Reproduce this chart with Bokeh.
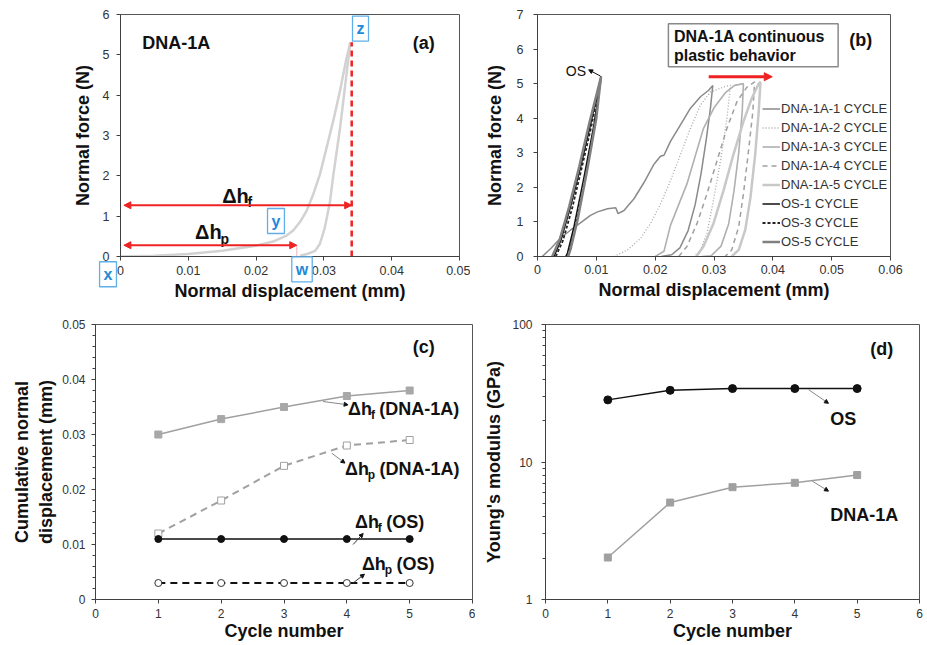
from bokeh.plotting import figure
from bokeh.layouts import column, row
from bokeh.models import Range1d, FixedTicker, Label, Arrow, NormalHead, Legend, LegendItem
from bokeh.core.properties import value
from bokeh.embed import file_html
from bokeh.resources import INLINE

FONT = "Liberation Sans"

# ---------------- Panel (a) data ----------------
a_load_x = [0, 0.005, 0.010, 0.015, 0.020, 0.0225, 0.0245, 0.0255, 0.0265, 0.0275, 0.0284, 0.0294, 0.0304, 0.0314, 0.0324, 0.0333, 0.0339]
a_load_y = [0, 0.02, 0.06, 0.14, 0.27, 0.37, 0.52, 0.65, 0.86, 1.15, 1.53, 2.03, 2.70, 3.38, 4.13, 4.89, 5.31]
a_unload_x = [0.0339, 0.0333, 0.0324, 0.0314, 0.0309, 0.0301, 0.0294, 0.0287, 0.0275, 0.0265]
a_unload_y = [5.31, 4.47, 3.21, 2.03, 1.36, 0.69, 0.31, 0.14, 0.06, 0.02]
a_dhf = 0.0341      # total displacement
a_dhp = 0.0260      # plastic displacement
a_xticks = [0, 0.01, 0.02, 0.03, 0.04, 0.05]
a_xlabels = ["0", "0.01", "0.02", "0.03", "0.04", "0.05"]
a_yticks = [0, 1, 2, 3, 4, 5, 6]

# ---------------- Panel (b) data ----------------
dna1_x = [0.0008, 0.0023, 0.0040, 0.0056, 0.0073, 0.0090, 0.0102, 0.0119, 0.0133, 0.0137, 0.0147, 0.0164, 0.0181, 0.0198, 0.0209, 0.0215, 0.0226, 0.0243, 0.0260, 0.0277, 0.0291, 0.0298,
          0.0294, 0.0287, 0.0278, 0.0268, 0.0256, 0.0242, 0.0228, 0.0210]
dna1_y = [0, 0.24, 0.55, 0.76, 0.97, 1.19, 1.29, 1.38, 1.41, 1.24, 1.33, 1.67, 2.14, 2.67, 2.90, 2.93, 3.33, 3.81, 4.29, 4.62, 4.81, 4.95,
          4.30, 3.40, 2.40, 1.50, 0.75, 0.25, 0.05, 0]
dna2_x = [0.0130, 0.0153, 0.0175, 0.0192, 0.0209, 0.0226, 0.0243, 0.0260, 0.0277, 0.0294, 0.0316, 0.0328,
          0.0322, 0.0311, 0.0299, 0.0288, 0.0277, 0.0266]
dna2_y = [0, 0.19, 0.52, 0.95, 1.52, 2.19, 2.95, 3.71, 4.38, 4.76, 4.90, 4.95,
          4.00, 2.76, 1.62, 0.67, 0.19, 0]
dna3_x = [0.0200, 0.0215, 0.0226, 0.0240, 0.0254, 0.0268, 0.0282, 0.0300, 0.0320, 0.0335, 0.0350,
          0.0348, 0.0342, 0.0334, 0.0325, 0.0312, 0.0295, 0.0280]
dna3_y = [0, 0.15, 0.90, 1.50, 2.10, 2.90, 3.70, 4.30, 4.75, 4.95, 5.00,
          4.20, 3.00, 1.90, 0.95, 0.30, 0.02, 0]
dna4_x = [0.0240, 0.0254, 0.0271, 0.0288, 0.0305, 0.0322, 0.0339, 0.0356, 0.0369,
          0.0366, 0.0358, 0.0350, 0.0342, 0.0330, 0.0319]
dna4_y = [0, 0.29, 0.95, 1.81, 2.76, 3.71, 4.48, 4.90, 5.05,
          4.19, 2.95, 1.81, 0.86, 0.19, 0]
dna5_x = [0.0270, 0.0282, 0.0299, 0.0316, 0.0333, 0.0350, 0.0364, 0.0376, 0.0379,
          0.0376, 0.0370, 0.0362, 0.0353, 0.0342, 0.0330]
dna5_y = [0, 0.29, 0.95, 1.90, 2.95, 3.90, 4.57, 5.00, 5.05,
          4.19, 2.95, 1.71, 0.76, 0.19, 0]
os1_x = [0.0028, 0.0040, 0.0056, 0.0073, 0.0090, 0.0108, 0.0096, 0.0079, 0.0062, 0.0051, 0.0048]
os1_y = [0, 0.48, 1.43, 2.57, 3.81, 5.20, 3.81, 2.29, 0.86, 0.10, 0]
os3_x = [0.0031, 0.0043, 0.0059, 0.0075, 0.0092, 0.0108, 0.0098, 0.0082, 0.0065, 0.0054, 0.0050]
os3_y = [0, 0.45, 1.40, 2.55, 3.80, 5.20, 3.90, 2.40, 0.95, 0.15, 0]
os5_x = [0.0025, 0.0038, 0.0054, 0.0071, 0.0088, 0.0108, 0.0100, 0.0085, 0.0068, 0.0056, 0.0052]
os5_y = [0, 0.50, 1.45, 2.60, 3.85, 5.20, 4.00, 2.55, 1.05, 0.20, 0]
b_xticks = [0, 0.01, 0.02, 0.03, 0.04, 0.05, 0.06]
b_xlabels = ["0", "0.01", "0.02", "0.03", "0.04", "0.05", "0.06"]
b_yticks = [0, 1, 2, 3, 4, 5, 6, 7]

# ---------------- Panel (c) data ----------------
cycles = [1, 2, 3, 4, 5]
dhf_dna = [0.0300, 0.0328, 0.0350, 0.0370, 0.0380]
dhp_dna = [0.0120, 0.0180, 0.0243, 0.0280, 0.0290]
dhf_os = [0.011, 0.011, 0.011, 0.011, 0.011]
dhp_os = [0.003, 0.003, 0.003, 0.003, 0.003]
c_yticks = [0, 0.01, 0.02, 0.03, 0.04, 0.05]
c_ylabels = ["0", "0.01", "0.02", "0.03", "0.04", "0.05"]
c_yminor = [i * 0.002 for i in range(26)]
cyc_ticks = [0, 1, 2, 3, 4, 5, 6]

# ---------------- Panel (d) data ----------------
E_os = [28.3, 33.2, 34.2, 34.2, 34.2]
E_dna = [2.02, 5.07, 6.56, 7.06, 8.04]
d_yticks = [1, 10, 100]
d_yminor = [2, 3, 4, 5, 6, 7, 8, 9, 20, 30, 40, 50, 60, 70, 80, 90]


def style(p, xticks, yticks, xlabels=None, ylabels=None, tick_size="12.5px"):
    p.outline_line_color = "#555555"
    p.outline_line_width = 1
    p.xgrid.visible = False
    p.ygrid.visible = False
    p.background_fill_color = "white"
    p.border_fill_color = "white"
    p.xaxis.ticker = FixedTicker(ticks=xticks)
    if isinstance(yticks, FixedTicker):
        p.yaxis.ticker = yticks
    else:
        p.yaxis.ticker = FixedTicker(ticks=yticks)
    if xlabels:
        p.xaxis.major_label_overrides = {t: l for t, l in zip(xticks, xlabels)}
    if ylabels:
        p.yaxis.major_label_overrides = {t: l for t, l in zip(p.yaxis[0].ticker.ticks, ylabels)}
    for ax in p.axis:
        ax.axis_line_color = "#404040"
        ax.axis_line_width = 1
        ax.major_tick_line_color = "#404040"
        ax.major_tick_in = 0
        ax.major_tick_out = 4
        ax.minor_tick_line_color = None
        ax.major_label_text_font = FONT
        ax.major_label_text_font_size = tick_size
        ax.major_label_text_color = "#333333"
        ax.axis_label_text_font = FONT
        ax.axis_label_text_font_size = "18px"
        ax.axis_label_text_font_style = "bold"
        ax.axis_label_text_color = "#111111"


def txt(p, x, y, s, size="18px", bold=True, align="left", color="#111111", xo=0, yo=0):
    p.text(x=[x], y=[y], text=[s], text_font=value(FONT), text_font_size=size,
           text_font_style="bold" if bold else "normal", text_align=align,
           text_baseline="middle", text_color=color, x_offset=xo, y_offset=yo)


def dh(p, x, y, sub, rest="", size=18):
    subsize = round(size * 0.68)
    wdh = 1.27 * size
    wsub = (0.36 if sub == "f" else 0.64) * subsize
    txt(p, x, y, "Δh", size=f"{size}px")
    txt(p, x, y, sub, size=f"{subsize}px", xo=wdh, yo=size * 0.32)
    if rest:
        txt(p, x, y, rest, size=f"{size}px", xo=wdh + wsub + 4)


def leader(p, x0, y0, x1, y1, color="#888888"):
    p.add_layout(Arrow(x_start=x0, y_start=y0, x_end=x1, y_end=y1, line_color=color, line_width=1,
                       end=NormalHead(size=4, fill_color="#111111", line_color="#111111")))


def box_label(p, x, y, s, place=None):
    lab = Label(x=x, y=y, text=s, text_font=FONT, text_font_size="16px", text_font_style="bold",
                text_color="#1f8ad6", text_align="center", text_baseline="middle",
                border_line_color="#5fb0ea", border_line_width=1.3, background_fill_color="white",
                padding=4)
    if place:
        p.add_layout(lab, place)
    else:
        p.add_layout(lab)


# ================= Panel (a) =================
pa = figure(width=470, height=310, x_range=Range1d(0, 0.05), y_range=Range1d(0, 6),
            output_backend="svg", toolbar_location=None,
            min_border_left=120, min_border_right=11, min_border_top=14, min_border_bottom=54,
            x_axis_label="Normal displacement (mm)", y_axis_label="Normal force (N)")
style(pa, a_xticks, a_yticks, a_xlabels)
pa.xaxis.major_label_standoff = 5
pa.xaxis.axis_label_standoff = 3
pa.yaxis.major_label_standoff = 7
pa.yaxis.axis_label_standoff = 7
pa.line(a_load_x, a_load_y, line_color="#d2d2d2", line_width=2.5)
pa.line(a_unload_x, a_unload_y, line_color="#d2d2d2", line_width=2.5)
pa.line([a_dhf, a_dhf], [0, a_load_y[-1]], line_color="#ee2222", line_width=2.5, line_dash="6 4")
pa.line([a_dhp, a_dhp], [0, 0.28], line_color="#ee6666", line_width=1, line_dash="1 1")
for yy, xx in [(1.27, a_dhf), (0.28, a_dhp)]:
    pa.add_layout(Arrow(x_start=0.0005, y_start=yy, x_end=xx, y_end=yy, line_color="#ee2222", line_width=2,
                        start=NormalHead(size=7, fill_color="#ee2222", line_color="#ee2222"),
                        end=NormalHead(size=7, fill_color="#ee2222", line_color="#ee2222")))
dh(pa, 0.0150, 1.50, "f", size=20)
dh(pa, 0.0110, 0.60, "p", size=20)
txt(pa, 0.0032, 5.30, "DNA-1A", size="18px")
txt(pa, 0.0431, 5.30, "(a)", size="18px")
box_label(pa, -0.00184, -0.44, "x", place="left")
box_label(pa, 0.02677, -0.32, "w", place="left")
box_label(pa, 0.02293, 0.88, "y")
box_label(pa, 0.0354, 5.65, "z")

# ================= Panel (b) =================
pb = figure(width=457, height=310, x_range=Range1d(0, 0.06), y_range=Range1d(0, 7),
            output_backend="svg", toolbar_location=None,
            min_border_left=67, min_border_right=37, min_border_top=14, min_border_bottom=54,
            x_axis_label="Normal displacement (mm)", y_axis_label="Normal force (N)")
style(pb, b_xticks, b_yticks, b_xlabels)
pb.xaxis.major_label_standoff = 4
pb.xaxis.axis_label_standoff = 3
pb.yaxis.major_label_standoff = 10
pb.yaxis.axis_label_standoff = 9

series = [
    ("DNA-1A-1 CYCLE", dna1_x, dna1_y, "#8a8a8a", 1.5, "solid"),
    ("DNA-1A-2 CYCLE", dna2_x, dna2_y, "#a8a8a8", 1.3, "1 2"),
    ("DNA-1A-3 CYCLE", dna3_x, dna3_y, "#b0b0b0", 1.6, "solid"),
    ("DNA-1A-4 CYCLE", dna4_x, dna4_y, "#a0a0a0", 1.5, "5 4"),
    ("DNA-1A-5 CYCLE", dna5_x, dna5_y, "#c8c8c8", 2.5, "solid"),
    ("OS-1 CYCLE", os1_x, os1_y, "#111111", 1.5, "solid"),
    ("OS-3 CYCLE", os3_x, os3_y, "#222222", 1.8, "3 2"),
    ("OS-5 CYCLE", os5_x, os5_y, "#808080", 2.5, "solid"),
]
items = []
for name, xs, ys, col, lw, dash in series:
    r = pb.line(xs, ys, line_color=col, line_width=lw, line_dash=dash)
    items.append(LegendItem(label=name, renderers=[r]))
leg = Legend(items=items, location=(225, 5), padding=0, margin=0, spacing=0,
             label_height=19, glyph_height=19, glyph_width=18, label_standoff=1,
             label_text_font=FONT, label_text_font_size="13px", label_text_color="#333333",
             border_line_color=None, background_fill_alpha=0)
pb.add_layout(leg)
pb.quad(left=[0.02225], right=[0.0511], bottom=[5.49], top=[6.73], fill_color="white",
        line_color="#8a8a8a", line_width=1.5)
txt(pb, 0.0232, 6.35, "DNA-1A continuous", size="16px")
txt(pb, 0.0232, 5.80, "plastic behavior", size="16px")
txt(pb, 0.0530, 6.25, "(b)", size="18px")
pb.add_layout(Arrow(x_start=0.0291, y_start=5.2, x_end=0.0399, y_end=5.2, line_color="#ee2222", line_width=3,
                    end=NormalHead(size=8, fill_color="#ee2222", line_color="#ee2222")))
txt(pb, 0.0048, 5.37, "OS", size="14px", bold=False)
leader(pb, 0.0107, 5.22, 0.0087, 5.40, color="#111111")

# ================= Panel (c) =================
pc = figure(width=475, height=335, x_range=Range1d(0, 6), y_range=Range1d(0, 0.05),
            output_backend="svg", toolbar_location=None,
            min_border_left=95, min_border_right=3, min_border_top=14, min_border_bottom=46,
            x_axis_label="Cycle number", y_axis_label="Cumulative normal\ndisplacement (mm)")
style(pc, cyc_ticks, FixedTicker(ticks=c_yticks, minor_ticks=c_yminor), ylabels=c_ylabels, tick_size="12px")
pc.yaxis.minor_tick_line_color = "#404040"
pc.yaxis.minor_tick_in = 0
pc.yaxis.minor_tick_out = 3
pc.xaxis.major_label_standoff = 5
pc.xaxis.axis_label_standoff = 0
pc.yaxis.major_label_standoff = 6
pc.yaxis.axis_label_standoff = 3
pc.line(cycles, dhf_dna, line_color="#a0a0a0", line_width=1.5)
pc.scatter(cycles, dhf_dna, marker="square", size=7, fill_color="#a8a8a8", line_color="#a8a8a8")
pc.line(cycles, dhp_dna, line_color="#a0a0a0", line_width=2, line_dash="7 5")
pc.scatter(cycles, dhp_dna, marker="square", size=7, fill_color="white", line_color="#a0a0a0")
pc.line(cycles, dhf_os, line_color="#111111", line_width=1.5)
pc.scatter(cycles, dhf_os, marker="circle", size=7, fill_color="#111111", line_color="#111111")
pc.line(cycles, dhp_os, line_color="#111111", line_width=2, line_dash="7 5")
pc.scatter(cycles, dhp_os, marker="circle", size=7, fill_color="white", line_color="#333333")
dh(pc, 4.02, 0.0346, "f", "(DNA-1A)")
dh(pc, 3.97, 0.0237, "p", "(DNA-1A)")
dh(pc, 4.13, 0.0141, "f", "(OS)")
dh(pc, 4.24, 0.0064, "p", "(OS)")
leader(pc, 3.62, 0.0360, 4.02, 0.0354)
leader(pc, 3.76, 0.0266, 3.97, 0.0248)
leader(pc, 4.10, 0.0100, 4.26, 0.0120, color="#333333")
leader(pc, 4.10, 0.0030, 4.28, 0.0046, color="#333333")
txt(pc, 5.05, 0.0459, "(c)", size="18px")

# ================= Panel (d) =================
pd_ = figure(width=452, height=335, x_range=Range1d(0, 6), y_range=Range1d(1, 100), y_axis_type="log",
             output_backend="svg", toolbar_location=None,
             min_border_left=70, min_border_right=8, min_border_top=14, min_border_bottom=46,
             x_axis_label="Cycle number", y_axis_label="Young's modulus (GPa)")
style(pd_, cyc_ticks, FixedTicker(ticks=d_yticks, minor_ticks=d_yminor), ylabels=["1", "10", "100"], tick_size="12px")
pd_.yaxis.minor_tick_line_color = "#404040"
pd_.yaxis.minor_tick_in = 0
pd_.yaxis.minor_tick_out = 3
pd_.xaxis.major_label_standoff = 5
pd_.xaxis.axis_label_standoff = 0
pd_.yaxis.major_label_standoff = 9
pd_.yaxis.axis_label_standoff = 5
pd_.line(cycles, E_os, line_color="#111111", line_width=1.5)
pd_.scatter(cycles, E_os, marker="circle", size=8, fill_color="#111111", line_color="#111111")
pd_.line(cycles, E_dna, line_color="#a0a0a0", line_width=1.5)
pd_.scatter(cycles, E_dna, marker="square", size=7, fill_color="#a0a0a0", line_color="#a0a0a0")
txt(pd_, 4.57, 20.6, "OS", size="18px")
txt(pd_, 4.57, 4.1, "DNA-1A", size="18px")
leader(pd_, 4.22, 33.6, 4.54, 26.7)
leader(pd_, 4.28, 7.26, 4.54, 6.14)
txt(pd_, 5.21, 65.9, "(d)", size="18px")

layout = column(row(pa, pb), row(pc, pd_))
open("out.html", "w").write(file_html(layout, INLINE))
